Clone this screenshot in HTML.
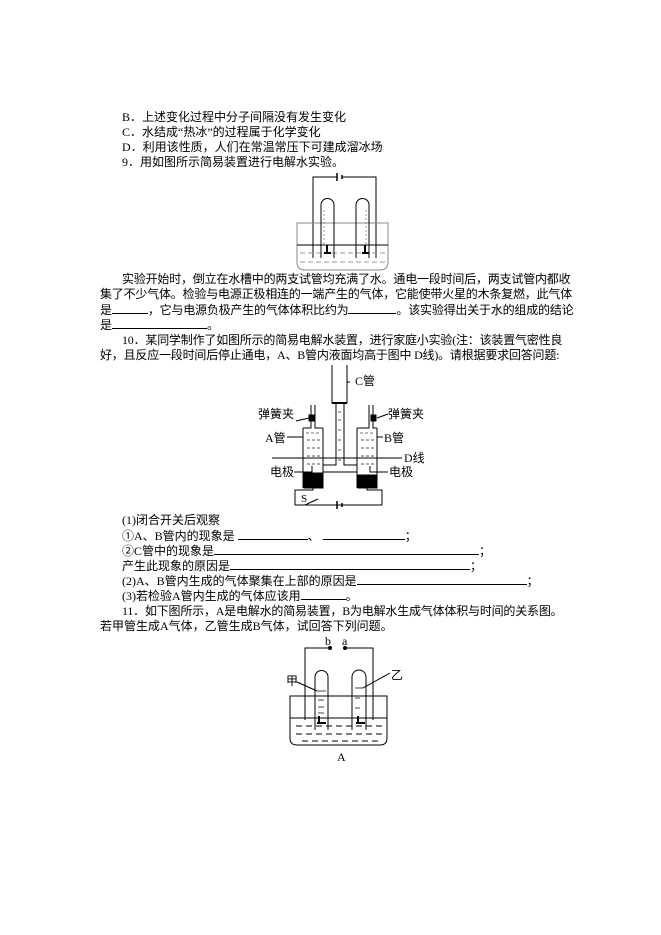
<!DOCTYPE html>
<html><head><meta charset="utf-8"><style>
body{margin:0;background:#fff;}
#p{position:relative;width:661px;height:935px;overflow:hidden;font-family:"Liberation Serif","Noto Sans CJK SC",sans-serif;font-size:12px;color:#000;}
.t{position:absolute;white-space:nowrap;line-height:14px;}
.u{display:inline-block;border-bottom:1px solid #000;height:11px;vertical-align:baseline;}
svg{position:absolute;left:0;top:0;}
</style></head><body><div id="p">
<div class="t" style="left:122px;top:110px">B．上述变化过程中分子间隔没有发生变化</div>
<div class="t" style="left:122px;top:125px">C．水结成“热冰”的过程属于化学变化</div>
<div class="t" style="left:122px;top:140px">D．利用该性质，人们在常温常压下可建成溜冰场</div>
<div class="t" style="left:122px;top:155px">9．用如图所示简易装置进行电解水实验。</div>
<div class="t" style="left:122px;top:272px;letter-spacing:-0.2px">实验开始时，倒立在水槽中的两支试管均充满了水。通电一段时间后，两支试管内都收</div>
<div class="t" style="left:100px;top:287px;letter-spacing:-0.2px">集了不少气体。检验与电源正极相连的一端产生的气体，它能使带火星的木条复燃，此气体</div>
<div class="t" style="left:100px;top:302px;letter-spacing:-0.2px">是<span class="u" style="width:36px"></span>，它与电源负极产生的气体体积比约为<span class="u" style="width:48px"></span>。该实验得出关于水的组成的结论</div>
<div class="t" style="left:100px;top:317px">是<span class="u" style="width:95px"></span>。</div>
<div class="t" style="left:122px;top:333px;letter-spacing:-0.2px">10．某同学制作了如图所示的简易电解水装置，进行家庭小实验(注：该装置气密性良</div>
<div class="t" style="left:100px;top:348px;letter-spacing:-0.2px">好，且反应一段时间后停止通电，A、B管内液面均高于图中 D线)。请根据要求回答问题:</div>
<div class="t" style="left:122px;top:513px">(1)闭合开关后观察</div>
<div class="t" style="left:122px;top:528px">①A、B管内的现象是<span class="u" style="width:70px;margin-left:3px"></span>、<span class="u" style="width:82px;margin-left:3px"></span>；</div>
<div class="t" style="left:122px;top:543px">②C管中的现象是<span class="u" style="width:265px"></span>；</div>
<div class="t" style="left:122px;top:558px">产生此现象的原因是<span class="u" style="width:240px"></span>；</div>
<div class="t" style="left:122px;top:573px">(2)A、B管内生成的气体聚集在上部的原因是<span class="u" style="width:170px"></span>；</div>
<div class="t" style="left:122px;top:588px">(3)若检验A管内生成的气体应该用<span class="u" style="width:45px"></span>。</div>
<div class="t" style="left:122px;top:604px;letter-spacing:-0.2px">11．如下图所示，A是电解水的简易装置，B为电解水生成气体体积与时间的关系图。</div>
<div class="t" style="left:100px;top:619px">若甲管生成A气体，乙管生成B气体，试回答下列问题。</div>

<svg width="661" height="935" fill="none" stroke="#000" stroke-width="1">
<!-- diagram 1 -->
<path d="M313 258V177H337M342 177H376V258"/>
<path d="M337 173V181M342 175V179" stroke-width="1.5"/>
<path d="M297 223H388V262Q388 270 380 270H305Q297 270 297 262Z" stroke="#888"/>
<path d="M297 245H388"/>
<path d="M300 253H386M300 262H386" stroke="#999" stroke-dasharray="5 3"/>
<path d="M321 258V205A6.5 6.5 0 0 1 334 205V258M356 258V205A6.5 6.5 0 0 1 369 205V258"/>
<path d="M324 210V245M366 210V245" stroke="#999" stroke-dasharray="2 2"/>
<path d="M324 253H331M362 253H369M327 245V253M365 245V253" stroke-width="2"/>
<!-- diagram 2 -->
<path d="M332 365V403H347V365"/>
<path d="M332 403H347" stroke-width="2"/>
<path d="M336 404V465H323M344 404V465H357"/>
<path d="M323 472H357"/>
<path d="M303 428V488M323 428V488M357 428V488M377 428V488"/>
<path d="M303 428H311V405M315 405V428H323M357 428H369V405M373 405V428H377"/>
<path d="M306 433H320M360 433H374" stroke="#777" stroke-dasharray="3 2"/>
<path d="M307 440H320M307 448H320M307 456H320M307 464H320M361 440H374M361 448H374M361 456H374M361 464H374M338 412H343M338 420H343M338 430H343M338 440H343M338 450H343M338 460H343" stroke="#555" stroke-dasharray="3 2"/>
<rect x="304" y="473" width="19" height="15" fill="#000"/>
<rect x="358" y="475" width="19" height="13" fill="#000"/>
<rect x="309" y="415" width="5" height="6" fill="#000"/><rect x="371" y="415" width="5" height="6" fill="#000"/>
<path d="M272 458H402"/>
<path d="M296 421L309 418M377 418L388 414"/>
<path d="M287 437H303M377 437H383M347 382V365M350 382H347"/>
<path d="M294 472H312V466M388 472H370V466"/>
<path d="M313 488V490H295V505H382V490H367V488"/>
<path d="M300 505H305L318 499"/>
<path d="M337 501V509M342 503V507" stroke-width="1.5"/>
<!-- diagram 3 -->
<path d="M305 720V648H330M345 648H373V720"/>
<circle cx="330" cy="648" r="1.5" fill="#000"/><circle cx="345" cy="648" r="1.5" fill="#000"/>
<path d="M290 696H387V738Q387 745 380 745H297Q290 745 290 738Z"/>
<path d="M290 718H387"/>
<path d="M296 726H384M296 734H384M302 741H378" stroke-dasharray="6 4"/>
<path d="M315 730V677A6.5 6.5 0 0 1 328 677V730M352 730V677A7 7 0 0 1 366 677V730"/>
<path d="M317 691H326M355 688H363M318 700H324M318 707H324M318 713H324M355 698H360M355 708H360" stroke="#444"/>
<path d="M317 723H326M356 723H365M319 716V723M358 716V723" stroke-width="2"/>
<path d="M297 682L317 691M363 688L390 673"/>
</svg>
<div class="t" style="left:355px;top:374px">C管</div>
<div class="t" style="left:258px;top:407px">弹簧夹</div>
<div class="t" style="left:388px;top:407px">弹簧夹</div>
<div class="t" style="left:265px;top:431px">A管</div>
<div class="t" style="left:384px;top:431px">B管</div>
<div class="t" style="left:404px;top:451px">D线</div>
<div class="t" style="left:270px;top:465px">电极</div>
<div class="t" style="left:389px;top:465px">电极</div>
<div class="t" style="left:301px;top:492px;font-size:11px">S</div>
<div class="t" style="left:325px;top:634px">b</div>
<div class="t" style="left:342px;top:634px">a</div>
<div class="t" style="left:286px;top:674px">甲</div>
<div class="t" style="left:391px;top:668px">乙</div>
<div class="t" style="left:337px;top:750px">A</div>
</div></body></html>
